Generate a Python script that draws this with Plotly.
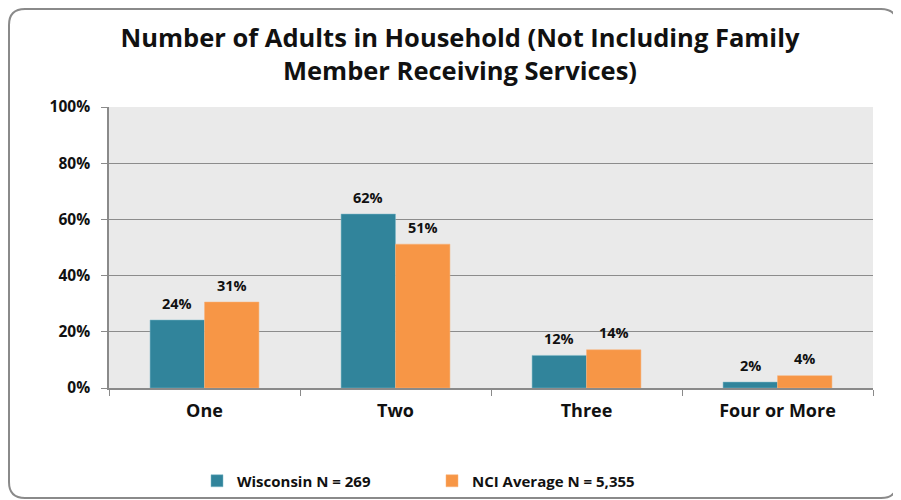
import plotly.graph_objects as go

categories = ["One", "Two", "Three", "Four or More"]
wisconsin = [24.2, 61.9, 11.6, 2.1]
nci = [30.6, 51.2, 13.6, 4.4]
series_names = ["Wisconsin N = 269", "NCI Average N = 5,355"]
title_text = "Number of Adults in Household (Not Including Family<br>Member Receiving Services)"

OFF = 8  # page body margin offset
SW, SH = 901, 500
W, H = SW - OFF, SH - OFF
# plot area in screen pixels
PL, PR, PT, PB = 109, 873, 107, 388
L, T = PL - OFF, PT - OFF
R, B = W - (PR - OFF), H - (PB - OFF)
pw, ph = PR - PL, PB - PT

def px(x):
    return (x - PL) / pw

def py(y):
    return (PB - y) / ph

FONT = "Open Sans"
DARK = "#111111"
BARGAP = 0.43
colors = ["#31849B", "#F79646"]
edges = ["#7FB8C8", "#F9B27A"]

fig = go.Figure()
series = [wisconsin, nci]
for i, vals in enumerate(series):
    fig.add_trace(go.Bar(
        x=categories, y=vals, name=series_names[i],
        marker=dict(color=colors[i], line=dict(color=edges[i], width=0.5)),
    ))

# data labels placed above each bar (offset by half a bar width within group)
cat_px = pw / len(categories)
bar_px = cat_px * (1 - BARGAP) / len(series)
for i, vals in enumerate(series):
    shift = (i - (len(series) - 1) / 2) * bar_px
    for c, v in zip(categories, vals):
        fig.add_annotation(x=c, y=v, xref="x", yref="y", text=f"{round(v)}%",
                           showarrow=False, xshift=shift, yshift=17, yanchor="middle",
                           font=dict(family=FONT, size=14.5, color=DARK, weight="bold"))

# rounded border (screen coords)
x0, x1, y0, y1, r = 9, 897, 9, 498, 16
path = (f"M {px(x0+r)},{py(y0)} L {px(x1-r)},{py(y0)} Q {px(x1)},{py(y0)} {px(x1)},{py(y0+r)} "
        f"L {px(x1)},{py(y1-r)} Q {px(x1)},{py(y1)} {px(x1-r)},{py(y1)} "
        f"L {px(x0+r)},{py(y1)} Q {px(x0)},{py(y1)} {px(x0)},{py(y1-r)} "
        f"L {px(x0)},{py(y0+r)} Q {px(x0)},{py(y0)} {px(x0+r)},{py(y0)} Z")
fig.add_shape(type="path", path=path, xref="paper", yref="paper",
              line=dict(color="#8a8a8a", width=2), layer="below")

fig.update_layout(
    width=W, height=H,
    margin=dict(l=L, r=R, t=T, b=B, autoexpand=False),
    paper_bgcolor="white", plot_bgcolor="#EAEAEA",
    barmode="group", bargap=BARGAP, bargroupgap=0,
    title=dict(text=title_text, x=px(460), xanchor="center", xref="paper",
               y=1 - (47 - OFF) / H, yanchor="middle",
               font=dict(family=FONT, size=25.5, color=DARK, weight="bold")),
    font=dict(family=FONT, color=DARK),
    xaxis=dict(showline=True, linecolor="#8a8a8a", linewidth=1.5,
               ticks="outside", tickson="boundaries", ticklen=6, tickcolor="#8a8a8a",
               ticklabelstandoff=6,
               tickfont=dict(family=FONT, size=18, color=DARK, weight="bold")),
    yaxis=dict(range=[0, 100], dtick=20, ticksuffix="%",
               showgrid=True, gridcolor="#8c8c8c", gridwidth=1,
               showline=True, linecolor="#8a8a8a", linewidth=1.5,
               ticks="outside", ticklen=6, tickcolor="#8a8a8a",
               ticklabelstandoff=8,
               tickfont=dict(family=FONT, size=15.5, color=DARK, weight="bold"),
               zeroline=False),
    legend=dict(orientation="h", x=px(197), xanchor="left", y=py(481), yanchor="middle",
                entrywidth=190, entrywidthmode="pixels", itemwidth=30,
                font=dict(family=FONT, size=15, color=DARK, weight="bold"),
                bgcolor="rgba(0,0,0,0)"),
)

fig.write_html("out.html")
